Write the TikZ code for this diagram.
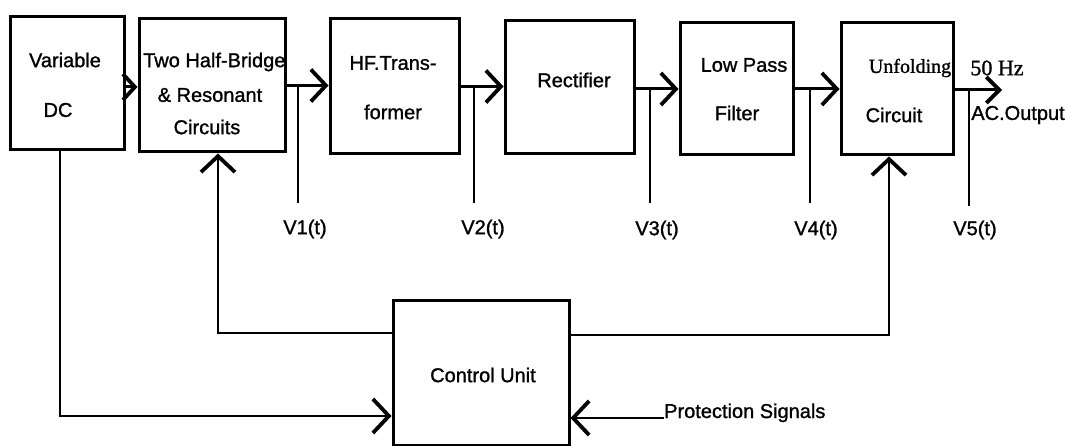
\documentclass[tikz,border=0pt]{standalone}
\usepackage{fontspec}
\setmainfont[FakeBold=1.2,AutoFakeBold=1.2]{Liberation Sans}
\newfontfamily\heavysans[FakeBold=1.2]{Liberation Sans}
\newfontfamily\seriffam[FakeBold=1.2]{Liberation Serif}
\usetikzlibrary{arrows.meta}
\begin{document}
\begin{tikzpicture}[x=1pt,y=-1pt,
  blk/.style={draw, line width=3pt, inner sep=0pt, fill=none},
  txt/.style={inner sep=0pt, font=\heavysans\fontsize{20}{24}\selectfont},
  stxt/.style={inner sep=0pt, font=\seriffam\fontsize{20}{24}\selectfont},
  conn/.style={line width=3pt, -{Straight Barb[length=15pt,width=32pt,line width=3.8pt]}},
  smallconn/.style={line width=3pt, -{Straight Barb[length=12pt,width=26pt,line width=3.8pt]}},
  tap/.style={line width=1.6pt},
  fb/.style={line width=2.6pt, -{Straight Barb[length=16pt,width=34pt,line width=3.8pt]}}
]
\useasboundingbox[fill=white] (0,0) rectangle (1068,446);

% blocks
\node[blk, minimum width=114pt, minimum height=133pt] (vdc) at (67,83.5) {};
\node[blk, minimum width=146pt, minimum height=133pt] (thb) at (212,85.5) {};
\node[blk, minimum width=129pt, minimum height=135pt] (hft) at (394.5,86.5) {};
\node[blk, minimum width=129pt, minimum height=133pt] (rec) at (569.5,87.5) {};
\node[blk, minimum width=113pt, minimum height=132pt] (lpf) at (736.5,89) {};
\node[blk, minimum width=112pt, minimum height=132pt] (unf) at (897,89) {};
\node[blk, minimum width=176pt, minimum height=144pt] (ctl) at (481,373) {};

% block texts
\node[txt] (tvdc1) at (65,60) {Variable};
\node[txt] (tvdc2) at (58,110) {DC};
\node[txt, anchor=west] (tthb1) at (143,62) {Two Half-Bridge};
\node[txt] (tthb2) at (210,95) {\& Resonant};
\node[txt] (tthb3) at (207,127) {Circuits};
\node[txt] (thft1) at (393,63) {HF.Trans-};
\node[txt] (thft2) at (393,112) {former};
\node[txt] (trec) at (574,80) {Rectifier};
\node[txt] (tlpf1) at (744,65) {Low Pass};
\node[txt] (tlpf2) at (737,113) {Filter};
\node[stxt] (tunf1) at (910,68) {Unfolding};
\node[txt] (tunf2) at (894,115) {Circuit};
\node[txt] (tctl) at (483,375) {Control Unit};

% forward path
\draw[smallconn] ([yshift=-3.5pt]vdc.east) -- ([yshift=-3.5pt]vdc.east -| thb.west);
\draw[conn] (thb.east) -- (thb.east -| hft.west);
\draw[conn] (hft.east) -- (hft.east -| rec.west);
\draw[conn] ([yshift=-1.5pt]rec.east) -- ([yshift=-1.5pt]rec.east -| lpf.west);
\draw[conn] (lpf.east) -- (lpf.east -| unf.west);
\coordinate (out) at (1002,90);
\draw[line width=3pt, -{Straight Barb[length=13pt,width=26pt,line width=3.8pt]}] (unf.east |- out) -- (out);

% output labels
\node[stxt, font=\seriffam\fontsize{22}{26}\selectfont] (hz) at (997,68) {50 Hz};
\node[txt] (acout) at (1018,115) {AC.Output};

% voltage taps
\coordinate (t1) at (298,86);  \coordinate (t1e) at (298,203);
\coordinate (t2) at (474,87);  \coordinate (t2e) at (474,203);
\coordinate (t3) at (650,89);  \coordinate (t3e) at (650,203);
\coordinate (t4) at (810,89);  \coordinate (t4e) at (810,203);
\coordinate (t5) at (969,90);  \coordinate (t5e) at (969,206);
\draw[tap] (t1) -- (t1e);
\draw[tap] (t2) -- (t2e);
\draw[tap] (t3) -- (t3e);
\draw[tap] (t4) -- (t4e);
\draw[tap] (t5) -- (t5e);
\node[txt] (v1) at (305,229) {V1(t)};
\node[txt] (v2) at (483,229) {V2(t)};
\node[txt] (v3) at (657,230) {V3(t)};
\node[txt] (v4) at (816,230) {V4(t)};
\node[txt] (v5) at (975,230) {V5(t)};

% control connections
\coordinate (c1) at (60,416);
\draw[fb] ([xshift=-7pt]vdc.south) -- (c1) -- (c1 -| ctl.west);
\coordinate (c2) at (218,333);
\draw[fb] (c2 -| ctl.west) -- (c2) -- (c2 |- thb.south);
\coordinate (c3) at (889,335);
\draw[fb] (c3 -| ctl.east) -- (c3) -- (c3 |- unf.south);
\node[txt, anchor=base west] (prot) at (664,418) {Protection Signals};
\draw[fb] (prot.base west) -- (prot.base west -| ctl.east);
\end{tikzpicture}
\end{document}
